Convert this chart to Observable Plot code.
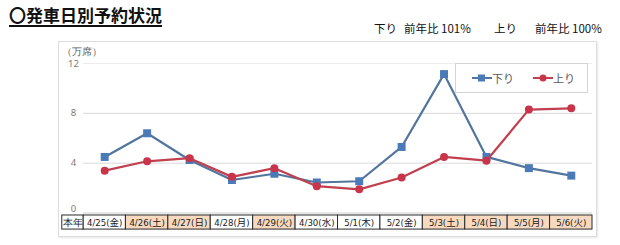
<!DOCTYPE html>
<html><head><meta charset="utf-8">
<script src="https://cdn.jsdelivr.net/npm/d3@7"></script>
<script src="https://cdn.jsdelivr.net/npm/@observablehq/plot@0.6"></script>
<style>
body{margin:0;background:#fff;width:620px;height:245px;overflow:hidden;position:relative;font-family:"Noto Sans CJK JP","Noto Sans",sans-serif;}
#title{position:absolute;left:9px;top:2px;font-size:17px;font-weight:bold;text-decoration:underline;text-decoration-thickness:2px;text-underline-offset:3px;color:#111;white-space:nowrap}
.sub{position:absolute;top:20px;font-size:11.5px;color:#111;white-space:nowrap}
#frame{position:absolute;left:58px;top:41px;width:537px;height:194px;border:1px solid #dcdcdc;box-shadow:1px 1px 2px rgba(0,0,0,0.10)}
#chart{position:absolute;left:0;top:38px}
#legend{position:absolute;left:455px;top:63px;width:131px;height:28px;border:1px solid #d4d4d4;background:#fff;font-size:11px;color:#595959}
.item{position:absolute;top:6px;display:flex;align-items:center;white-space:nowrap}
</style>
</head><body>
<div id="title">〇発車日別予約状況</div>
<div class="sub" style="left:374px">下り</div>
<div class="sub" style="left:404px">前年比 101%</div>
<div class="sub" style="left:494px">上り</div>
<div class="sub" style="left:535px">前年比 100%</div>
<div id="frame"></div>
<div id="chart"></div>
<div id="legend">
  <div class="item" style="left:16px"><svg width="20" height="10"><line x1="0" y1="5" x2="20" y2="5" stroke="#52759e" stroke-width="2"/><rect x="6" y="1.5" width="7" height="7" fill="#4a7ab8"/></svg><span>下り</span></div>
  <div class="item" style="left:77px"><svg width="20" height="10"><line x1="0" y1="5" x2="20" y2="5" stroke="#c0404f" stroke-width="2"/><circle cx="10" cy="5" r="3.5" fill="#c8354a"/></svg><span>上り</span></div>
</div>
<script>
const days = ["4/25(金)","4/26(土)","4/27(日)","4/28(月)","4/29(火)","4/30(水)","5/1(木)","5/2(金)","5/3(土)","5/4(日)","5/5(月)","5/6(火)"];
const holidays = [false,true,true,false,true,false,false,false,true,true,true,true];
const down = [4.5,6.4,4.25,2.65,3.15,2.45,2.55,5.3,11.15,4.5,3.6,3.0];
const up = [3.4,4.15,4.4,2.9,3.6,2.15,1.9,2.85,4.5,4.2,8.3,8.4];
const yTicks = [0,4,8,12];
const rowLabel = "本年";
const unitLabel = "（万席）";

const blueLine = "#52759e", blueDot = "#4a7ab8";
const redLine = "#c0404f", redDot = "#c8354a";

const rows = days.map((d,i)=>({day:d, i, holiday:holidays[i], down:down[i], up:up[i]}));
const tTop = -0.2, tBot = -1.33;

const chart = Plot.plot({
  width: 620, height: 207,
  marginLeft: 83, marginRight: 28, marginTop: 25, marginBottom: 32.5,
  x: {type:"linear", domain:[-0.5, 11.5], axis:null},
  y: {domain:[0,12], axis:null},
  style: {background:"transparent", overflow:"visible"},
  marks: [
    Plot.ruleY(yTicks.filter(v=>v>0 && v<12), {stroke:"#d9d9d9", strokeWidth:1}),
    Plot.ruleY(yTicks.filter(v=>v===12), {stroke:"#ececec", strokeWidth:1}),
    Plot.ruleY([0], {stroke:"#cfcfcf"}),
    Plot.text(yTicks.filter(v=>v>0), {x:-0.5, y:d=>d, text:d=>String(d), textAnchor:"middle", dx:-10, fontSize:9.5, fill:"#7a7a7a"}),
    Plot.text(yTicks.filter(v=>v===0), {x:-0.5, y:d=>d, text:d=>String(d), textAnchor:"middle", dx:-10, dy:-4, fontSize:9.5, fill:"#7a7a7a"}),
    Plot.text([unitLabel], {frameAnchor:"top-left", dx:-22, dy:-16, textAnchor:"start", fontSize:10, fill:"#595959"}),
    Plot.rect(rows, {x1:d=>d.i-0.5, x2:d=>d.i+0.5, y1:tTop, y2:tBot, fill:d=>d.holiday?"#f6d9bf":"#fff", stroke:"#2a2a2a", strokeWidth:1}),
    Plot.rect([rowLabel], {x1:-1, x2:-0.5, y1:tTop, y2:tBot, fill:"#fff", stroke:"#2a2a2a", strokeWidth:1}),
    Plot.text(rows, {x:"i", y:(tTop+tBot)/2, text:"day", fontSize:9.5, fill:"#1a1a1a", fontFamily:"'Liberation Sans Narrow','DejaVu Sans Condensed','Noto Sans CJK JP',sans-serif"}),
    Plot.text([rowLabel], {x:-0.75, y:(tTop+tBot)/2, text:d=>d, fontSize:10, fill:"#1a1a1a"}),
    Plot.line(rows, {x:"i", y:"down", stroke:blueLine, strokeWidth:2.2}),
    Plot.dot(rows, {x:"i", y:"down", symbol:"square", fill:blueDot, r:4.5}),
    Plot.line(rows, {x:"i", y:"up", stroke:redLine, strokeWidth:2.2}),
    Plot.dot(rows, {x:"i", y:"up", symbol:"circle", fill:redDot, r:4})
  ]
});
document.getElementById("chart").appendChild(chart);
</script>
</body></html>
